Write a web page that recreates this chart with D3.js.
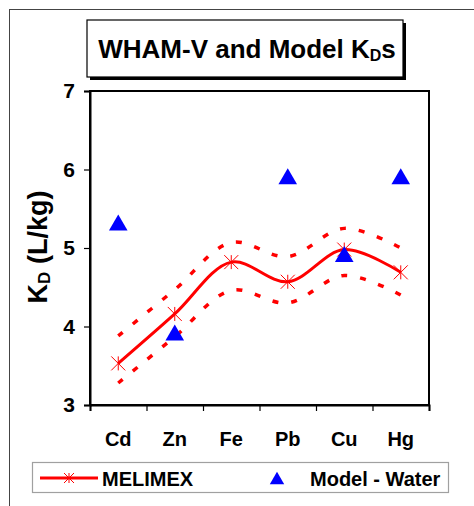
<!DOCTYPE html>
<html><head><meta charset="utf-8">
<script src="https://cdn.jsdelivr.net/npm/d3@7"></script>
<style>
html,body{margin:0;padding:0;background:#fff;}
svg{display:block;font-family:"Liberation Sans",Arial,sans-serif;}
</style></head>
<body><svg id="c" width="474" height="506"></svg>
<script>
const categories = ["Cd","Zn","Fe","Pb","Cu","Hg"];
const melimex = [3.53, 4.16, 4.82, 4.57, 4.98, 4.69];
const melimexUpper = [3.88, 4.47, 5.07, 4.89, 5.25, 5.00];
const melimexLower = [3.28, 3.87, 4.46, 4.30, 4.65, 4.40];
const modelWater = [5.29, 3.89, null, 5.88, 4.89, 5.88];
const yTicks = [3,4,5,6,7];

const svg = d3.select("#c");
const L = 90, R = 429, T = 91, B = 405;

const x = d3.scaleBand().domain(categories).range([L, R]).padding(0);
const xEdge = d3.scaleLinear().domain([0, categories.length]).range([L, R]);
const y = d3.scaleLinear().domain([3, 7]).range([B, T]);
const cx = c => x(c) + x.bandwidth() / 2;

// outer frame (partial)
svg.append("line").attr("x1", 9.5).attr("x2", 9.5).attr("y1", 9).attr("y2", 506).attr("stroke", "#444").attr("stroke-width", 1);
svg.append("line").attr("x1", 9).attr("x2", 474).attr("y1", 9.5).attr("y2", 9.5).attr("stroke", "#444").attr("stroke-width", 1);

// title box
svg.append("rect").attr("x", 90).attr("y", 23).attr("width", 316).attr("height", 57).attr("fill", "#000");
svg.append("rect").attr("x", 87).attr("y", 20).attr("width", 316).attr("height", 57).attr("fill", "#fff").attr("stroke", "#000").attr("stroke-width", 1.2);
const title = svg.append("text").attr("x", 247).attr("y", 58).attr("text-anchor", "middle")
  .attr("font-weight", "bold").attr("font-size", 26).attr("fill", "#000");
title.append("tspan").text("WHAM-V and Model K");
title.append("tspan").text("D").attr("font-size", 16).attr("dy", 3);
title.append("tspan").text("s").attr("dy", -3);

// plot frame
svg.append("rect").attr("x", L).attr("y", T).attr("width", R - L).attr("height", B - T)
  .attr("fill", "none").attr("stroke", "#000").attr("stroke-width", 2);

// y axis
const ya = svg.append("g").attr("transform", `translate(${L},0)`)
  .call(d3.axisLeft(y).tickValues(yTicks).tickSize(6).tickPadding(9).tickFormat(d3.format("d")));
ya.select(".domain").attr("stroke-width", 2);
ya.selectAll(".tick line").attr("stroke-width", 1.2);
ya.selectAll("text").attr("font-size", 21).attr("font-weight", "bold").attr("font-family", "Liberation Sans, Arial, sans-serif").attr("fill", "#000");

// x axis ticks
const xa = svg.append("g").attr("transform", `translate(0,${B})`)
  .call(d3.axisBottom(xEdge).tickValues(d3.range(categories.length + 1)).tickSize(6).tickFormat(""));
xa.select(".domain").attr("stroke-width", 2);
xa.selectAll(".tick line").attr("stroke-width", 1.2);

// x labels
svg.append("g").selectAll("text").data(categories).join("text")
  .attr("x", d => cx(d)).attr("y", 446).attr("text-anchor", "middle")
  .attr("font-size", 20).attr("font-weight", "bold").attr("fill", "#000").text(d => d);

// y label
const yl = svg.append("text").attr("transform", "translate(47,247) rotate(-90)").attr("text-anchor", "middle")
  .attr("font-size", 27).attr("font-weight", "bold").attr("fill", "#000");
yl.append("tspan").text("K");
yl.append("tspan").text("D").attr("font-size", 17).attr("dy", 3);
yl.append("tspan").text(" (L/kg)").attr("dy", -3);

// lines
const line = d3.line().x((d, i) => cx(categories[i])).y(d => y(d)).curve(d3.curveCatmullRom.alpha(0.5));
svg.append("path").attr("d", line(melimexUpper)).attr("fill", "none").attr("stroke", "#ff0000")
  .attr("stroke-width", 3.5).attr("stroke-dasharray", "6 13");
svg.append("path").attr("d", line(melimexLower)).attr("fill", "none").attr("stroke", "#ff0000")
  .attr("stroke-width", 3.5).attr("stroke-dasharray", "6 13");
svg.append("path").attr("d", line(melimex)).attr("fill", "none").attr("stroke", "#ff0000").attr("stroke-width", 3);

// star symbol (vertical + X)
const starSym = {
  draw(ctx, size) {
    const r = Math.sqrt(size) / 2;
    ctx.moveTo(0, -r); ctx.lineTo(0, r);
    ctx.moveTo(-r, -r); ctx.lineTo(r, r);
    ctx.moveTo(-r, r); ctx.lineTo(r, -r);
  }
};
const star = d3.symbol().type(starSym).size(196);
svg.append("g").selectAll("path").data(melimex).join("path")
  .attr("transform", (d, i) => `translate(${cx(categories[i])},${y(d)})`)
  .attr("d", star).attr("fill", "none").attr("stroke", "#ff0000").attr("stroke-width", 1);

// triangles
const tri = d3.symbol().type(d3.symbolTriangle).size(150);
svg.append("g").selectAll("path").data(modelWater.map((v, i) => ({v, c: categories[i]})).filter(d => d.v != null)).join("path")
  .attr("transform", d => `translate(${cx(d.c)},${y(d.v)})`)
  .attr("d", tri).attr("fill", "#0000ff");

// legend
svg.append("rect").attr("x", 32.5).attr("y", 462.5).attr("width", 416).attr("height", 30)
  .attr("fill", "#fff").attr("stroke", "#a0a0a0").attr("stroke-width", 1.2);
svg.append("line").attr("x1", 40).attr("x2", 98).attr("y1", 478).attr("y2", 478).attr("stroke", "#ff0000").attr("stroke-width", 3);
svg.append("path").attr("transform", "translate(69,478)").attr("d", d3.symbol().type(starSym).size(100)).attr("stroke", "#ff0000").attr("fill", "none");
svg.append("text").attr("x", 102).attr("y", 485.5).attr("font-size", 20).attr("font-weight", "bold").attr("fill", "#000").text("MELIMEX");
svg.append("path").attr("transform", "translate(277,480)").attr("d", d3.symbol().type(d3.symbolTriangle).size(90)).attr("fill", "#0000ff");
svg.append("text").attr("x", 310).attr("y", 485.5).attr("font-size", 20).attr("font-weight", "bold").attr("fill", "#000").text("Model - Water");
</script></body></html>
